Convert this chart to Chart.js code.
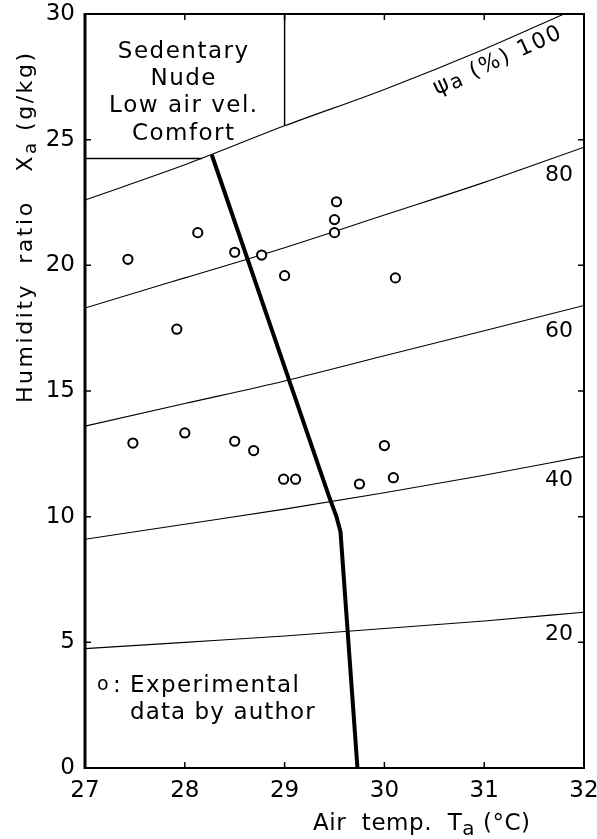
<!DOCTYPE html>
<html>
<head>
<meta charset="utf-8">
<script src="https://cdn.jsdelivr.net/npm/chart.js@4"></script>
<style>
  html, body { margin: 0; padding: 0; background: #fff; }
  #wrap { width: 597px; height: 839px; }
</style>
</head>
<body>
<div id="wrap"><canvas id="c" width="597" height="839"></canvas></div>
<script>
// Axis ranges and tick steps
const tempRange = [27, 32];
const humidityRange = [0, 30];
const tempStep = 1;
const humidityStep = 5;

// Relative humidity curves (humidity ratio, g/kg, at each air temperature)
const rhTemp = [27, 28, 29, 30, 31, 32];
const rh100Temp = [27, 28, 29, 30, 31, 31.8];
const rh100 = [22.6, 24.0, 25.55, 27.0, 28.6, 30.0];
const rh80 = [18.3, 19.5, 20.7, 22.0, 23.3, 24.7];
const rh60 = [13.6, 14.5, 15.4, 16.4, 17.4, 18.4];
const rh40 = [9.1, 9.7, 10.3, 10.95, 11.65, 12.4];
const rh20 = [4.75, 5.0, 5.25, 5.55, 5.85, 6.2];
const rhLabels = ['80', '60', '40', '20'];

// Upper comfort limit
const comfortTemp = [28.27, 29.45, 29.52, 29.56, 29.73];
const comfortHum = [24.4, 10.75, 10.0, 9.4, 0];

// Condition box boundaries
const boxVertTemp = [29, 29];
const boxVertHum = [30, 25.55];
const boxHorizTemp = [27, 28.17];
const boxHorizHum = [24.25, 24.25];
const boxText = ['Sedentary', 'Nude', 'Low air vel.', 'Comfort'];

// Experimental data by author
const expTemp = [27.43, 28.13, 28.50, 28.77, 29.00, 29.50, 29.50, 29.52, 30.11, 27.92,
                 27.48, 28.00, 28.50, 28.69, 28.99, 29.11, 29.75, 30.00, 30.09];
const expHum  = [20.24, 21.30, 20.52, 20.41, 19.59, 21.82, 21.30, 22.53, 19.50, 17.46,
                 12.93, 13.33, 13.00, 12.63, 11.49, 11.49, 11.30, 12.83, 11.55];

const FONT = '"DejaVu Sans", sans-serif';
const pts = (xs, ys) => xs.map((v, i) => ({ x: v, y: ys[i] }));

const thinLine = (xs, ys) => ({
  type: 'line', data: pts(xs, ys), borderColor: '#000', borderWidth: 1.1,
  pointRadius: 0, cubicInterpolationMode: 'monotone', fill: false, order: 2
});

// Draws a text made of runs (different sizes/offsets), spread to a given length
function drawSpread(ctx, runs, x, y, angle, targetLen) {
  const chars = [];
  runs.forEach(r => {
    for (const ch of r.t) chars.push({ ch, size: r.size, dy: r.dy || 0 });
  });
  let natural = 0;
  chars.forEach(c => { ctx.font = c.size + 'px ' + FONT; c.w = ctx.measureText(c.ch).width; natural += c.w; });
  const ls = chars.length > 1 ? (targetLen - natural) / (chars.length - 1) : 0;
  ctx.save();
  ctx.translate(x, y);
  ctx.rotate(angle * Math.PI / 180);
  ctx.textAlign = 'left';
  ctx.textBaseline = 'alphabetic';
  let cx = 0;
  chars.forEach(c => {
    ctx.font = c.size + 'px ' + FONT;
    ctx.fillText(c.ch, cx, c.dy);
    cx += c.w + ls;
  });
  ctx.restore();
}

function drawSpaced(ctx, text, x, y, size, ls, align) {
  ctx.save();
  ctx.font = size + 'px ' + FONT;
  let w = 0;
  const ws = [...text].map(ch => { const m = ctx.measureText(ch).width; w += m; return m; });
  w += ls * (ws.length - 1);
  let cx = align === 'center' ? x - w / 2 : x;
  ctx.textAlign = 'left';
  ctx.textBaseline = 'alphabetic';
  [...text].forEach((ch, i) => { ctx.fillText(ch, cx, y); cx += ws[i] + ls; });
  ctx.restore();
}

const decor = {
  id: 'decor',
  afterDatasetsDraw(chart) {
    const { ctx, chartArea: a, scales: { x, y } } = chart;
    ctx.save();
    ctx.strokeStyle = '#000';
    ctx.fillStyle = '#000';

    // frame
    ctx.lineWidth = 2;
    ctx.strokeRect(a.left, a.top, a.right - a.left, a.bottom - a.top);
    ctx.lineWidth = 3;
    ctx.beginPath(); ctx.moveTo(a.left, a.top - 1); ctx.lineTo(a.left, a.bottom + 1); ctx.stroke();

    // inward tick marks
    ctx.lineWidth = 1.5;
    const tl = 6;
    for (let v = tempRange[0] + tempStep; v < tempRange[1]; v += tempStep) {
      const px = x.getPixelForValue(v);
      ctx.beginPath();
      ctx.moveTo(px, a.bottom); ctx.lineTo(px, a.bottom - tl);
      ctx.moveTo(px, a.top); ctx.lineTo(px, a.top + tl);
      ctx.stroke();
    }
    for (let v = humidityRange[0] + humidityStep; v < humidityRange[1]; v += humidityStep) {
      const py = y.getPixelForValue(v);
      ctx.beginPath();
      ctx.moveTo(a.left, py); ctx.lineTo(a.left + tl, py);
      ctx.moveTo(a.right, py); ctx.lineTo(a.right - tl, py);
      ctx.stroke();
    }

    // relative humidity labels
    ctx.font = '22px ' + FONT;
    ctx.textAlign = 'center';
    ctx.textBaseline = 'middle';
    const labelHum = [23.6, 17.39, 11.46, 5.33];
    rhLabels.forEach((t, i) => ctx.fillText(t, x.getPixelForValue(31.75), y.getPixelForValue(labelHum[i])));

    // rotated 100 % label along the saturation curve
    drawSpread(ctx, [
      { t: '\u03C8', size: 23 }, { t: 'a', size: 20, dy: 2 },
      { t: ' (%) 100', size: 22 }
    ], 437, 95, -24.5, 138);

    // condition box text
    const boxBase = [58, 85, 112, 140];
    boxText.forEach((t, i) => drawSpaced(ctx, t, 183, boxBase[i], 23, 1.5, 'center'));

    // legend note
    drawSpaced(ctx, 'o', 97, 690, 19, 0, 'left');
    drawSpaced(ctx, ':', 113, 692, 23, 0, 'left');
    drawSpaced(ctx, 'Experimental', 130, 692, 23, 1.4, 'left');
    drawSpaced(ctx, 'data by author', 130, 719, 23, 1.1, 'left');

    // axis titles
    drawSpread(ctx, [
      { t: 'Humidity  ratio   X', size: 22 }, { t: 'a', size: 18, dy: 4 },
      { t: ' (g/kg)', size: 22 }
    ], 32, 403, -90, 350);
    drawSpread(ctx, [
      { t: 'Air  temp.  T', size: 23 }, { t: 'a', size: 20, dy: 5 },
      { t: ' (\u00B0C)', size: 23 }
    ], 313, 830, 0, 217);

    ctx.restore();
  }
};

new Chart(document.getElementById('c'), {
  type: 'scatter',
  data: {
    datasets: [
      {
        type: 'scatter', data: pts(expTemp, expHum), pointStyle: 'circle',
        pointRadius: 4.6, pointBorderWidth: 2, pointBackgroundColor: '#fff',
        pointBorderColor: '#000', order: 0
      },
      {
        type: 'line', data: pts(comfortTemp, comfortHum), borderColor: '#000',
        borderWidth: 4, pointRadius: 0, tension: 0, fill: false, order: 1,
        borderJoinStyle: 'round'
      },
      thinLine(rh100Temp, rh100),
      thinLine(rhTemp, rh80),
      thinLine(rhTemp, rh60),
      thinLine(rhTemp, rh40),
      thinLine(rhTemp, rh20),
      { type: 'line', data: pts(boxVertTemp, boxVertHum), borderColor: '#000', borderWidth: 1.5, pointRadius: 0, order: 2 },
      { type: 'line', data: pts(boxHorizTemp, boxHorizHum), borderColor: '#000', borderWidth: 1.5, pointRadius: 0, order: 2 }
    ]
  },
  options: {
    responsive: false,
    animation: false,
    devicePixelRatio: 1,
    layout: { padding: { top: 14, right: 13, left: 0, bottom: 0 } },
    plugins: { legend: { display: false }, tooltip: { enabled: false } },
    scales: {
      x: {
        type: 'linear', min: tempRange[0], max: tempRange[1],
        ticks: { stepSize: tempStep, color: '#000', font: { family: FONT, size: 23 }, padding: 9, maxRotation: 0 },
        grid: { display: false, drawTicks: false },
        border: { display: false },
        afterFit: s => { s.height = 71; s.paddingLeft = 0; s.paddingRight = 0; }
      },
      y: {
        type: 'linear', min: humidityRange[0], max: humidityRange[1],
        ticks: { stepSize: humidityStep, color: '#000', font: { family: FONT, size: 23 }, padding: 10 },
        grid: { display: false, drawTicks: false },
        border: { display: false },
        afterFit: s => { s.width = 85; s.paddingTop = 0; s.paddingBottom = 0; }
      }
    }
  },
  plugins: [decor]
});
</script>
</body>
</html>
